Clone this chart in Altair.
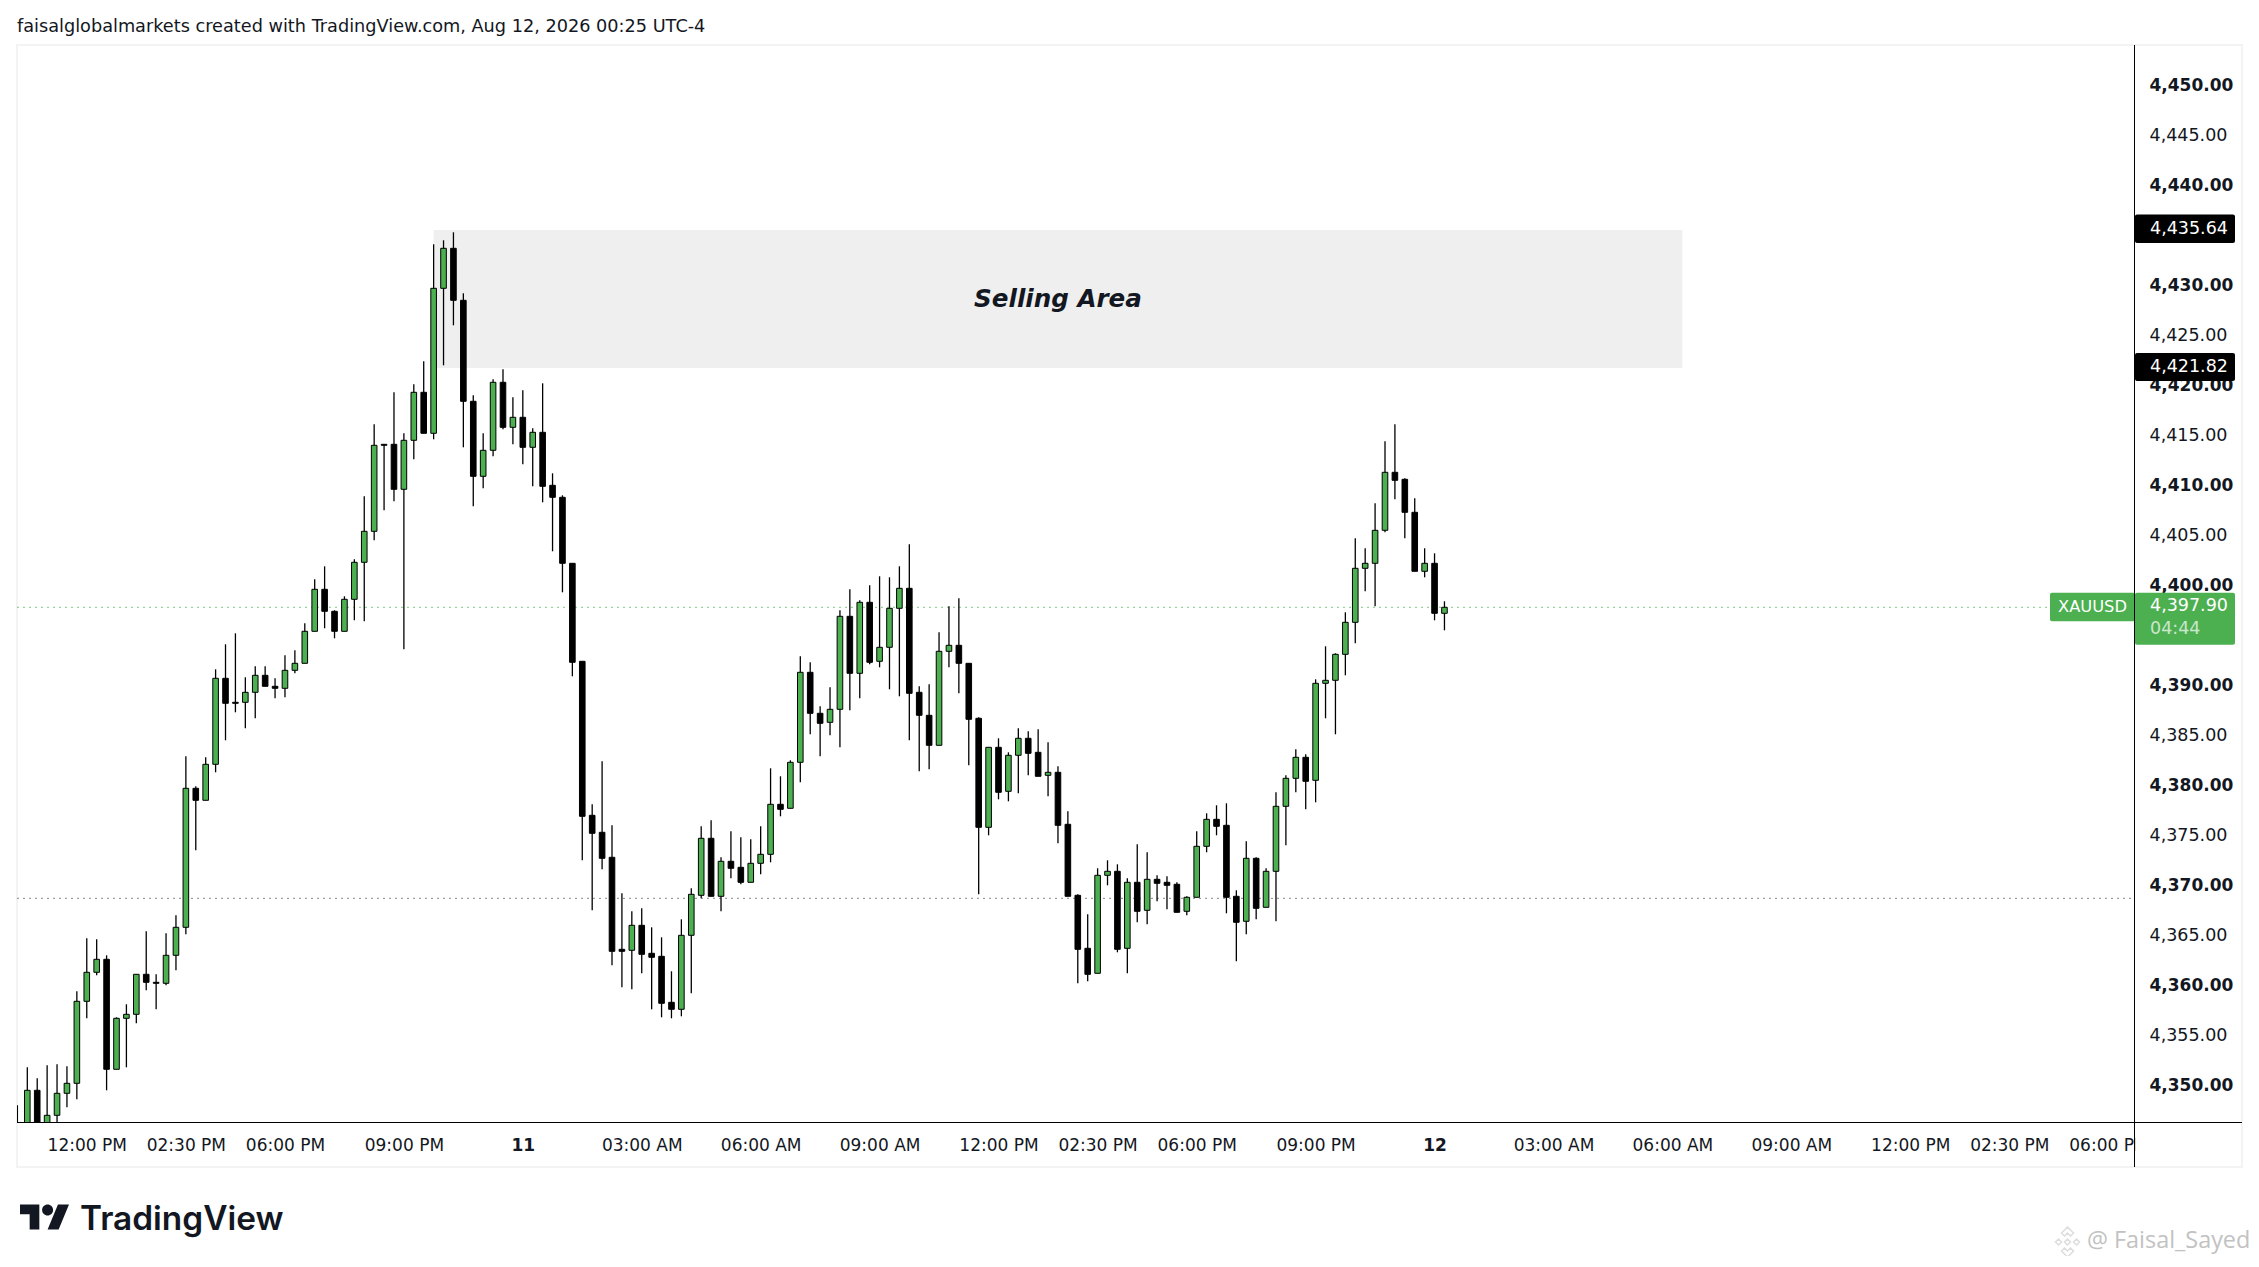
import altair as alt
import pandas as pd

highs = [4348.1,4351.9,4350.8,4352.1,4352.2,4352.0,4359.5,4364.8,4364.7,4363.1,4356.9,4358.2,4361.2,4365.5,4361.2,4365.3,4367.1,4383.0,4380.0,4382.9,4391.7,4394.2,4395.3,4390.9,4392.0,4392.0,4390.8,4393.1,4393.6,
4396.3,4400.7,4402.0,4397.6,4399.0,4402.7,4409.0,4416.2,4414.2,4419.4,4415.3,4420.2,4422.5,4434.2,4434.6,4435.4,4429.3,4419.1,4415.3,4420.7,
4421.7,4418.9,4419.6,4415.8,4420.3,4411.3,4409.1,4402.3,4392.5,4378.2,4382.5,4376.1,4369.3,4367.5,4367.8,4365.9,4364.9,4361.5,4366.7,4369.8,4376.0,4376.6,4372.9,4375.5,4374.9,4374.7,4376.0,4381.8,4381.0,4382.6,4393.0,4392.4,4388.0,4389.9,4397.6,4399.7,4398.6,4400.1,4401.0,4400.9,4402.0,4404.2,
4390.0,4390.2,4395.4,4398.0,4398.8,4392.3,4386.9,4383.9,4384.8,4383.4,4385.8,4385.5,4385.7,4384.4,4382.0,4377.5,4369.2,4367.2,4371.8,4372.6,4372.2,4370.8,4374.2,4373.4,4371.1,4371.0,4370.4,4369.0,4375.5,4377.3,4378.1,4378.3,4369.6,4374.5,4372.9,4371.8,4379.4,4381.1,4383.7,4383.2,4390.7,4394.0,4393.3,4397.4,
4404.8,4403.8,4408.3,4414.5,4416.2,4410.8,4408.8,4403.8,4403.3,4398.5]
lows = [4345.0,4345.0,4345.5,4345.8,4346.0,4347.9,4348.7,4356.8,4361.1,4349.6,4351.7,4351.9,4356.3,4359.6,4357.7,4360.1,4361.6,4365.2,4373.6,4378.6,4381.4,4384.6,4387.4,4385.8,4386.8,4390.0,4388.8,4388.9,4391.3,
4392.3,4395.5,4395.8,4394.8,4395.5,4396.6,4396.5,4404.6,4407.6,4408.5,4393.7,4412.7,4415.3,4414.7,4422.1,4426.1,4413.9,4408.0,4409.8,4413.0,
4415.7,4414.2,4412.2,4410.0,4408.4,4403.5,4399.4,4391.0,4372.6,4367.6,4371.7,4362.1,4359.9,4359.7,4361.3,4357.7,4356.9,4356.8,4357.0,4359.3,4368.8,4369.0,4367.5,4370.8,4370.2,4370.4,4371.2,4372.4,4377.0,4377.8,4380.4,4385.2,4383.0,4385.1,4383.9,4387.6,4388.8,4392.2,4391.9,4389.7,4389.0,4384.6,
4381.5,4381.7,4384.1,4391.9,4389.3,4382.1,4369.2,4375.1,4378.7,4378.5,4379.3,4381.1,4381.0,4379.0,4374.3,4369.0,4360.3,4360.5,4361.3,4370.1,4363.4,4361.3,4366.4,4366.2,4368.5,4367.7,4367.4,4367.1,4368.9,4373.4,4375.1,4367.3,4362.5,4365.2,4366.7,4367.9,4366.5,4374.1,4379.4,4377.7,4378.4,4386.8,4385.2,4391.1,
4394.3,4399.5,4398.0,4405.4,4408.7,4404.8,4401.5,4400.9,4396.6,4395.6]
body_top = [4346.0,4349.6,4349.6,4347.1,4349.3,4350.3,4358.5,4361.4,4362.7,4362.7,4356.8,4357.2,4361.2,4361.2,4360.4,4363.1,4365.9,4379.8,4379.8,4382.2,4390.8,4390.8,4388.4,4389.4,4391.1,4391.1,4390.0,4391.6,4392.3,
4395.5,4399.7,4399.7,4397.5,4398.7,4402.4,4405.5,4414.1,4414.2,4414.2,4414.6,4419.4,4419.4,4429.8,4433.8,4433.8,4428.6,4418.5,4413.6,4420.4,
4420.4,4416.9,4416.9,4415.4,4415.4,4410.1,4408.9,4402.3,4392.5,4377.1,4375.4,4372.9,4363.7,4366.1,4366.1,4363.3,4363.0,4358.4,4365.1,4369.2,4374.8,4374.8,4372.5,4372.5,4371.9,4372.3,4373.2,4378.2,4378.2,4382.4,4391.4,4391.4,4387.3,4387.7,4397.0,4397.0,4398.4,4398.4,4393.9,4397.8,4399.8,4399.8,
4389.4,4387.1,4393.5,4394.1,4394.1,4392.3,4386.8,4383.9,4383.9,4383.1,4384.8,4384.8,4383.4,4381.4,4381.4,4376.2,4369.1,4363.8,4371.1,4371.5,4371.5,4370.4,4370.4,4370.7,4370.7,4370.4,4370.2,4368.9,4374.0,4376.7,4376.7,4376.1,4369.0,4372.8,4372.8,4371.5,4378.0,4380.8,4382.9,4382.9,4390.3,4390.6,4393.2,4396.4,
4401.8,4402.3,4405.6,4411.4,4411.4,4410.7,4407.4,4402.3,4402.3,4397.9]
body_bot = [4345.0,4345.3,4346.0,4346.0,4347.1,4349.3,4350.3,4358.5,4361.4,4351.7,4351.7,4356.8,4357.2,4360.4,4360.3,4360.3,4363.1,4365.9,4378.6,4378.6,4382.2,4388.3,4388.3,4388.4,4389.4,4390.0,4389.8,4389.8,4391.6,
4392.3,4395.5,4397.5,4395.5,4395.5,4398.7,4402.4,4405.5,4414.1,4409.7,4409.7,4414.6,4415.3,4415.3,4429.8,4428.6,4418.5,4411.0,4411.0,4413.6,
4415.9,4415.9,4413.9,4413.9,4410.0,4408.9,4402.3,4392.4,4377.0,4375.3,4372.8,4363.5,4363.5,4363.6,4363.2,4362.9,4358.3,4357.7,4357.7,4365.1,4369.1,4369.0,4369.0,4371.8,4370.4,4370.4,4372.3,4373.2,4377.7,4377.8,4382.4,4387.3,4386.3,4386.4,4387.7,4391.3,4391.3,4392.4,4392.5,4393.9,4397.8,4389.3,
4387.1,4384.1,4384.1,4393.5,4392.3,4386.7,4375.9,4375.9,4379.4,4379.5,4383.1,4383.3,4381.0,4381.1,4376.1,4369.0,4363.7,4361.2,4361.3,4371.1,4363.7,4363.8,4367.5,4367.6,4370.3,4370.1,4367.4,4367.5,4368.9,4374.0,4376.0,4368.9,4366.4,4366.5,4367.8,4367.9,4371.5,4378.0,4380.8,4380.5,4380.6,4390.3,4390.6,4393.2,
4396.4,4401.8,4402.3,4405.6,4410.6,4407.4,4401.5,4401.5,4397.3,4397.3]
# 1 = close above open (green), 0 = close below open (black)
rising = [1,1,0,1,1,1,1,1,1,0,1,1,1,0,0,1,1,1,0,1,1,0,0,1,1,0,0,1,1,
1,1,0,0,1,1,1,1,0,0,1,1,0,1,1,0,0,0,1,1,
0,1,0,1,0,0,0,0,0,0,0,0,0,1,0,0,0,0,1,1,1,0,1,0,0,1,1,1,0,1,1,0,0,1,1,0,1,0,1,1,1,0,
0,0,1,1,0,0,0,1,0,1,1,0,0,1,0,0,0,0,1,1,0,1,0,1,0,0,0,1,1,1,0,0,0,1,0,1,1,1,1,0,1,1,1,1,
1,1,1,1,0,0,0,1,0,1]

# 4,435.00 and 4,395.00 sit fully behind the price tags in the reference, so they are not listed
y_ticks = [4350,4355,4360,4365,4370,4375,4380,4385,4390,4400,4405,4410,4415,4420,4425,4430,4440,4445,4450]
x_ticks = [6,16,26,38,50,62,74,86,98,108,118,130,142,154,166,178,190,200,210]
x_labels = ["12:00 PM","02:30 PM","06:00 PM","09:00 PM","11","03:00 AM","06:00 AM","09:00 AM","12:00 PM","02:30 PM","06:00 PM","09:00 PM","12","03:00 AM","06:00 AM","09:00 AM","12:00 PM","02:30 PM","06:00 PM"]
zone_top, zone_bottom = 4435.64, 4421.82
zone_start, zone_end = 41, 167
last_price = 4397.90
ref_price = 4368.8

INK = "#131722"
GREEN = "#4CAF50"
FONT = "DejaVu Sans"

df = pd.DataFrame({"i": range(-1, len(highs) - 1), "high": highs, "low": lows, "top": body_top, "bot": body_bot,
                   "dir": ["up" if r else "down" for r in rising]})

x_scale = alt.Scale(domain=[-1.04, 212.68], nice=False, zero=False, padding=0)
y_scale = alt.Scale(domain=[4346.43, 4454.13], nice=False, zero=False, padding=0)
one = pd.DataFrame({"a": [0]})

label_expr = "[" + ",".join(f"'{s}'" for s in x_labels) + "][indexof([" + ",".join(map(str, x_ticks)) + "],datum.value)]"
x_axis = alt.Axis(values=x_ticks, labelExpr=label_expr, domain=False, ticks=False, grid=False, labelPadding=15,
                  labelFont=FONT, labelFontSize=17, labelColor=INK, labelOverlap=False, labelBound=False, labelFlush=False,
                  labelFontWeight={"condition": {"test": "datum.value === 50 || datum.value === 142", "value": "bold"}, "value": "normal"})
y_axis = alt.Axis(values=y_ticks, orient="right", format=",.2f", domain=False, ticks=False, grid=False, labelPadding=14,
                  labelFont=FONT, labelColor=INK, labelOffset=-1, labelOverlap=False, labelBound=False, labelFlush=False,
                  labelFontSize={"condition": {"test": "datum.value % 10 === 0", "value": 17}, "value": 17.5},
                  labelFontWeight={"condition": {"test": "datum.value % 10 === 0", "value": "bold"}, "value": "normal"})
X = lambda f: alt.X(f, scale=x_scale, axis=x_axis, title=None)
Y = lambda f: alt.Y(f, scale=y_scale, axis=y_axis, title=None)

pane = alt.Chart(one).mark_rect(fill="transparent", stroke="#f3f3f3", strokeWidth=2).encode(
    x=alt.value(0), x2=alt.value(2225), y=alt.value(0), y2=alt.value(1122))

zone = alt.Chart(pd.DataFrame({"x1": [zone_start], "x2": [zone_end], "y1": [zone_top], "y2": [zone_bottom]})).mark_rect(color="#efefef").encode(
    x=X("x1:Q"), x2="x2:Q", y=Y("y1:Q"), y2="y2:Q")
zone_text = alt.Chart(pd.DataFrame({"x": [(zone_start + zone_end) / 2], "y": [4428.6], "t": ["Selling Area"]})).mark_text(
    font=FONT, fontStyle="italic", fontWeight="bold", fontSize=24.6, color=INK, align="center", baseline="middle").encode(
    x=X("x:Q"), y=Y("y:Q"), text="t:N")

def level(price, color, opacity):
    return alt.Chart(pd.DataFrame({"p": [price]})).mark_rule(color=color, strokeDash=[2, 4], strokeWidth=1, opacity=opacity).encode(
        x=alt.value(0), x2=alt.value(2118), y=Y("p:Q"))

wicks = alt.Chart(df).mark_rule(color="black", strokeWidth=1.3, clip=True).encode(x=X("i:Q"), y=Y("high:Q"), y2="low:Q")
bodies = alt.Chart(df).mark_bar(size=5.6, stroke="black", strokeWidth=1, clip=True).encode(
    x=X("i:Q"), y=Y("top:Q"), y2="bot:Q",
    color=alt.Color("dir:N", scale=alt.Scale(domain=["up", "down"], range=[GREEN, "black"]), legend=None))

mask = alt.Chart(one).mark_rect(color="white").encode(x=alt.value(2118.5), x2=alt.value(2223), y=alt.value(1078), y2=alt.value(1120))
v_line = alt.Chart(one).mark_rule(color="black", strokeWidth=1).encode(x=alt.value(2117.5), y=alt.value(0), y2=alt.value(1122))
h_line = alt.Chart(one).mark_rule(color="black", strokeWidth=1).encode(x=alt.value(0), x2=alt.value(2225), y=alt.value(1077.5))

def tag(price, fill, up, down, x1=2118, x2=2218):
    return alt.Chart(pd.DataFrame({"p": [price]})).transform_calculate(
        a=f"datum.p + {up}", b=f"datum.p - {down}").mark_rect(color=fill, cornerRadius=2).encode(
        x=alt.value(x1), x2=alt.value(x2), y=Y("a:Q"), y2="b:Q")

def tag_text(price, text, dy=0, x=2133, color="white", opacity=1.0, size=17.5, align="left"):
    return alt.Chart(pd.DataFrame({"p": [price], "t": [text]})).mark_text(
        font=FONT, fontSize=size, color=color, opacity=opacity, align=align, baseline="middle", dy=dy).encode(
        x=alt.value(x), y=Y("p:Q"), text="t:N")

tags = [
    tag(zone_top, "black", 1.55, 1.3), tag_text(zone_top, "4,435.64", dy=-1),
    tag(zone_bottom, "black", 1.5, 1.3), tag_text(zone_bottom, "4,421.82", dy=-1),
    tag(last_price, GREEN, 1.45, 3.75), tag_text(last_price, "4,397.90", dy=-1),
    tag_text(last_price, "04:44", dy=22, opacity=0.7),
    tag(last_price, GREEN, 1.45, 1.4, x1=2033, x2=2118),
    tag_text(last_price, "XAUUSD", dy=0, x=2041, size=16.3),
]

def caption(text, x, y, size, color=INK, font=FONT, weight="normal", align="left"):
    return alt.Chart(pd.DataFrame({"t": [text]})).mark_text(
        font=font, fontSize=size, color=color, fontWeight=weight, align=align, baseline="middle").encode(
        x=alt.value(x), y=alt.value(y), text="t:N")

title = caption("faisalglobalmarkets created with TradingView.com, Aug 12, 2026 00:25 UTC-4", 0, -18, 17.7)
brand = caption("TradingView", 63, 1175, 33.4, color="#131722", font="Inter", weight=600)
tv_shape = ("M-0.211,0.507H-0.606V-0.113H-1V-0.507H-0.211Z"
            "M0.577,0.507H0.127L0.549,-0.507H1Z"
            "M-0.098,-0.282a0.225,0.225 0 1,0 0.45,0a0.225,0.225 0 1,0 -0.45,0Z")
logo = alt.Chart(one).mark_point(shape=tv_shape, filled=True, color="#131722", opacity=1, size=2401).encode(
    x=alt.value(27.5), y=alt.value(1172))
mark_shape = ("M0,-1L0.4,-0.6L0.2,-0.4L0,-0.6L-0.2,-0.4L-0.4,-0.6Z"
              "M-0.6,-0.2L-0.4,0L-0.6,0.2L-0.8,0Z M0.6,-0.2L0.8,0L0.6,0.2L0.4,0Z"
              "M0,-0.2L0.2,0L0,0.2L-0.2,0Z"
              "M0,1L-0.4,0.6L-0.2,0.4L0,0.6L0.2,0.4L0.4,0.6Z")
stamp = alt.Chart(one).mark_point(shape=mark_shape, filled=False, stroke="#cfcfcf", strokeWidth=1.5, size=900).encode(
    x=alt.value(2050.5), y=alt.value(1197))
water = caption("@ Faisal_Sayed", 2070, 1196, 23.4, color="#c2c2c2", font="Open Sans")

chart = alt.layer(pane, zone, zone_text, level(last_price, GREEN, 0.7), level(ref_price, "#787b86", 0.9),
                  wicks, bodies, mask, *tags, v_line, h_line, title, brand, logo, stamp, water).properties(
    width=2118, height=1077,
    padding={"left": 9, "top": 37, "right": 116, "bottom": 134},
    autosize=alt.AutoSizeParams(type="none"),
    background="white",
).configure_view(stroke=None)

chart.save("out.html", embed_options={"renderer": "svg", "actions": False})
